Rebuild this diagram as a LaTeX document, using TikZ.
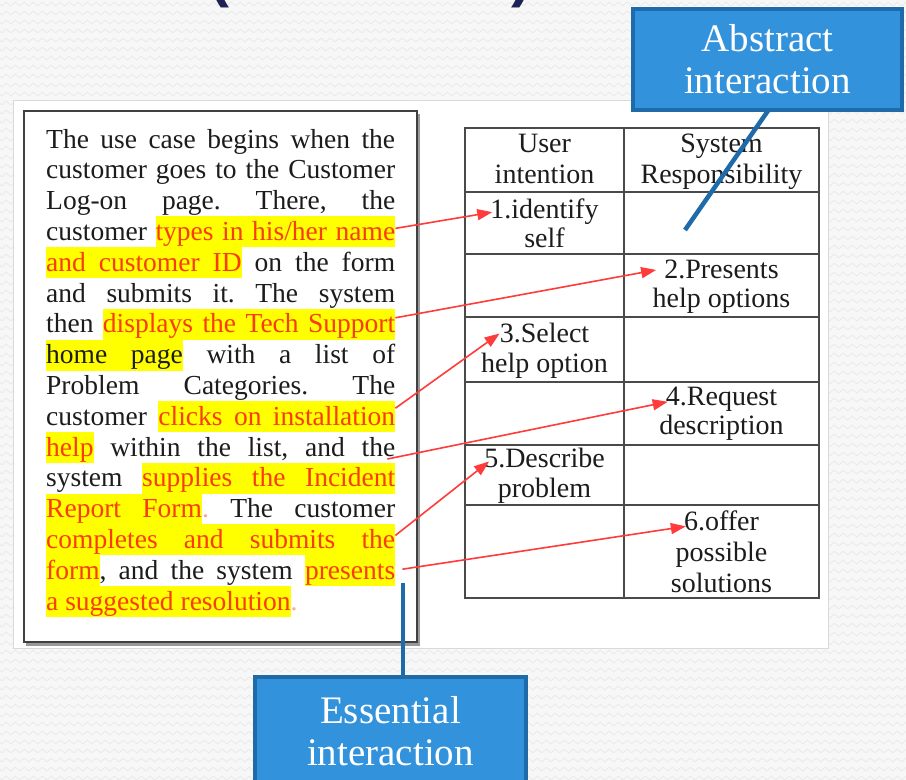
\documentclass[tikz,border=0pt]{standalone}
\usepackage{fontspec}
\setmainfont{Liberation Serif}
\newfontfamily\titlefont{Liberation Sans}
\usetikzlibrary{arrows.meta,decorations.pathmorphing}

\definecolor{hly}{HTML}{FFFF00}
\definecolor{hlred}{HTML}{FA3C0A}
\definecolor{inkc}{HTML}{1C1C1C}
\definecolor{arrowred}{HTML}{FF3B3B}
\definecolor{calloutfill}{HTML}{3292DC}
\definecolor{calloutedge}{HTML}{1F6BAA}
\definecolor{titlenavy}{HTML}{1E2255}
\definecolor{pagebg}{HTML}{F7F7F7}
\definecolor{zig}{HTML}{E8E8E8}
\definecolor{gridc}{HTML}{4A4A4A}

% highlighter: yellow band behind a word, and a yellow stretchable space
\newcommand\hlstrut{\rule[-7pt]{0pt}{31pt}}
\newcommand\hlr[1]{{\fboxsep=0pt\colorbox{hly}{\hlstrut\textcolor{hlred}{#1}}}}
\newcommand\hlk[1]{{\fboxsep=0pt\colorbox{hly}{\hlstrut #1}}}
\newcommand\hlsp{{\color{hly}\leaders\hrule height 24pt depth 7pt\hskip\fontdimen2\font plus\fontdimen3\font minus\fontdimen4\font\relax}}
\newcommand\jline[1]{\hbox to 349pt{#1}}

\begin{document}
\begin{tikzpicture}[x=1pt,y=-1pt,
  txtline/.style={anchor=base west, inner sep=0pt, text=inkc,
    font=\fontsize{27.5}{30.8}\selectfont\frenchspacing},
  cell/.style={anchor=base, inner sep=0pt, text=inkc,
    font=\fontsize{28}{30.5}\selectfont},
  link/.style={arrowred, line width=1.6pt, -{Triangle[length=15pt,width=11pt]}},
  callout/.style={draw=calloutedge, fill=calloutfill, line width=4pt, text=white,
    align=center, inner sep=0pt, font=\fontsize{39}{42}\selectfont},
  leader/.style={calloutedge, line width=4.5pt},
  titlefrag/.style={inner sep=0pt, anchor=south, text=titlenavy,
    font=\titlefont\bfseries\fontsize{60}{60}\selectfont}]
\useasboundingbox (0,0) rectangle (906,780);

% textured slide background
\fill[pagebg] (0,0) rectangle (906,780);
\foreach \yy in {4,13,...,790}
  \draw[zig, line width=0.7pt, decorate,
        decoration={zigzag, segment length=9pt, amplitude=1.8pt}] (-5,\yy) -- (911,\yy);

% title glyphs running off the top edge
\node[titlefrag] (parl) at (219,8) {(};
\node[titlefrag] (parr) at (521,8) {)};

% white screenshot area
\filldraw[fill=white, draw=black!15, line width=1pt] (13,100) rectangle (828,648);

% use-case narrative box
\fill[black!40] (26,114) rectangle (420,646);
\filldraw[fill=white, draw=black!75, line width=1.6pt] (24,111) rectangle (417,642);

\node[txtline] (l1)  at (46,148)   {\jline{The use case begins when the}};
\node[txtline] (l2)  at (46,178.8) {\jline{customer goes to the Customer}};
\node[txtline] (l3)  at (46,209.6) {\jline{Log-on page. There, the}};
\node[txtline] (l4)  at (46,240.4) {\jline{customer \hlr{types}\hlsp\hlr{in}\hlsp\hlr{his/her}\hlsp\hlr{name}}};
\node[txtline] (l5)  at (46,271.2) {\jline{\hlr{and}\hlsp\hlr{customer}\hlsp\hlr{ID} on the form}};
\node[txtline] (l6)  at (46,302)   {\jline{and submits it. The system}};
\node[txtline] (l7)  at (46,332.8) {\jline{then \hlr{displays}\hlsp\hlr{the}\hlsp\hlr{Tech}\hlsp\hlr{Support}}};
\node[txtline] (l8)  at (46,363.6) {\jline{\hlk{home}\hlsp\hlk{page} with a list of}};
\node[txtline] (l9)  at (46,394.4) {\jline{Problem Categories. The}};
\node[txtline] (l10) at (46,425.2) {\jline{customer \hlr{clicks}\hlsp\hlr{on}\hlsp\hlr{installation}}};
\node[txtline] (l11) at (46,456)   {\jline{\hlr{help} within the list, and the}};
\node[txtline] (l12) at (46,486.8) {\jline{system \hlr{supplies}\hlsp\hlr{the}\hlsp\hlr{Incident}}};
\node[txtline] (l13) at (46,517.6) {\jline{\hlr{Report}\hlsp\hlr{Form}\textcolor{hlred!45}{.} The customer}};
\node[txtline] (l14) at (46,548.4) {\jline{\hlr{completes}\hlsp\hlr{and}\hlsp\hlr{submits}\hlsp\hlr{the}}};
\node[txtline] (l15) at (46,579.2) {\jline{\hlr{form}, and the system \hlr{presents}}};
\node[txtline] (l16) at (46,610)   {\hlr{a}\hlsp\hlr{suggested}\hlsp\hlr{resolution}\textcolor{hlred!45}{.}};

% interaction table
\draw[gridc, line width=1.5pt] (465,128) rectangle (819,598);
\draw[gridc, line width=1.5pt] (624,128) -- (624,598);
\foreach \ry in {192,254,317,382,445,505}
  \draw[gridc, line width=1.5pt] (465,\ry) -- (819,\ry);

\node[cell] (h1a) at (544.5,152) {User};
\node[cell] (h1b) at (544.5,183) {intention};
\node[cell] (h2a) at (721.5,152) {System};
\node[cell] (h2b) at (721.5,183) {Responsibility};
\node[cell] (c1a) at (544.5,218) {1.identify};
\node[cell] (c1b) at (544.5,247) {self};
\node[cell] (c2a) at (721.5,278) {2.Presents};
\node[cell] (c2b) at (721.5,307) {help options};
\node[cell] (c3a) at (544.5,342) {3.Select};
\node[cell] (c3b) at (544.5,372) {help option};
\node[cell] (c4a) at (721.5,405) {4.Request};
\node[cell] (c4b) at (721.5,434) {description};
\node[cell] (c5a) at (544.5,467) {5.Describe};
\node[cell] (c5b) at (544.5,497) {problem};
\node[cell] (c6a) at (721.5,530) {6.offer};
\node[cell] (c6b) at (721.5,561) {possible};
\node[cell] (c6c) at (721.5,592) {solutions};

% narrative phrases mapped to table steps
\draw[link] ([yshift=12pt]l4.base east) -- ([xshift=2pt,yshift=-1pt]c1a.west);
\draw[link] ([yshift=15pt]l7.base east) -- ([xshift=-8pt,yshift=-1pt]c2a.west);
\draw[link] ([yshift=17pt]l10.base east) -- ([yshift=-1pt]c3a.west);
\draw[link] ([xshift=-8pt,yshift=-3pt]l11.base east) -- ([xshift=2pt,yshift=-3pt]c4a.west);
\draw[link] ([yshift=13pt]l14.base east) -- ([xshift=5pt,yshift=-4pt]c5a.west);
\draw[link] ([xshift=7pt,yshift=10pt]l15.base east) -- ([xshift=2pt,yshift=-6pt]c6a.west);

% callout leaders
\coordinate (absend) at (685,230);
\coordinate (essend) at (403,583);
\draw[leader] (772,105) -- (absend);
\draw[leader] (essend) -- (403,680);

% callouts
\node[callout, minimum width=269pt, minimum height=101pt] (abs) at (767.5,59.5) {Abstract\\interaction};
\node[callout, minimum width=271pt, minimum height=109pt] (ess) at (390.5,731.5) {Essential\\interaction};
\end{tikzpicture}
\end{document}
